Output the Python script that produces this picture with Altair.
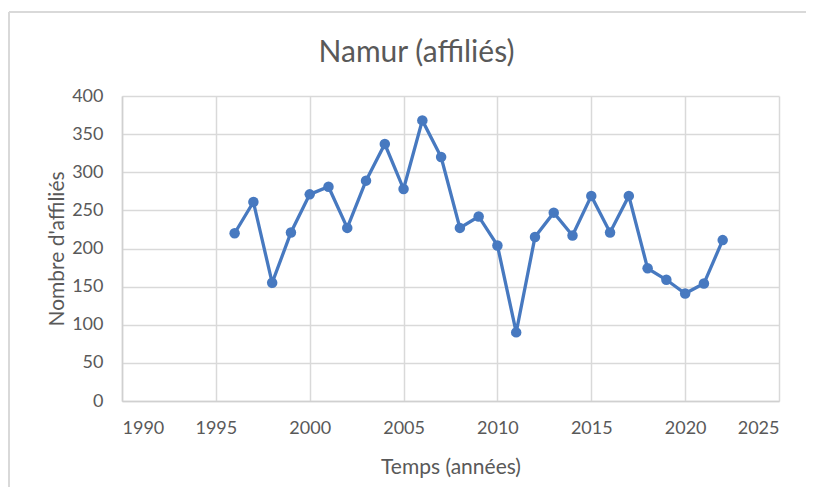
import altair as alt
import pandas as pd

years = list(range(1996, 2023))
affilies = [220, 261, 155, 221, 271, 281, 227, 289, 337, 278, 368, 320, 227,
            242, 204, 90, 215, 247, 217, 269, 221, 269, 174, 159, 141, 154, 211]

df = pd.DataFrame({"annee": years, "affilies": affilies})

FONT = "Lato"
GREY = "#595959"
BLUE = "#4779C0"

x = alt.X("annee:Q",
          scale=alt.Scale(domain=[1990, 2025], nice=False, zero=False),
          axis=alt.Axis(title="Temps (années)", values=list(range(1990, 2026, 5)),
                        format="d", titleY=72, titleBaseline="alphabetic"))
y = alt.Y("affilies:Q",
          scale=alt.Scale(domain=[0, 400], nice=False),
          axis=alt.Axis(title="Nombre d'affiliés", values=list(range(0, 401, 50)),
                        titleX=-59, titleBaseline="alphabetic"))

line = alt.Chart(df).mark_line(color=BLUE, strokeWidth=3.3).encode(x=x, y=y)
pts = alt.Chart(df).mark_point(filled=True, opacity=1, color=BLUE, size=110).encode(x=x, y=y)

border_top = alt.Chart(df).mark_rule(color="#d9d9d9", strokeWidth=1.5).encode(
    x=alt.value(-113), x2=alt.value(720), y=alt.value(-84))
border_left = alt.Chart(df).mark_rule(color="#d9d9d9", strokeWidth=1.5).encode(
    x=alt.value(-113), y=alt.value(-84), y2=alt.value(420))

chart = alt.layer(border_top, border_left, line, pts).properties(
    width=657, height=305,
    autosize=alt.AutoSizeParams(type="none"),
    padding={"left": 114, "top": 88, "right": 27, "bottom": 86},
    title=alt.Title("Namur (affiliés)", anchor="middle", dx=-34, offset=33, dy=114,
                    baseline="alphabetic", fontSize=30, font=FONT,
                    fontWeight="normal", color=GREY),
).configure_view(stroke=None).configure_axis(
    grid=True, gridColor="#d9d9d9", gridWidth=1.5,
    domainColor="#d0d0d0", domainWidth=1.5,
    ticks=False, tickSize=0,
    labelFont=FONT, labelFontSize=18, labelColor=GREY,
    titleFont=FONT, titleFontSize=21, titleColor=GREY, titleFontWeight="normal",
).configure_axisX(labelPadding=18).configure_axisY(labelPadding=19)

chart.save("out.html", embed_options={"renderer": "svg", "actions": False})
